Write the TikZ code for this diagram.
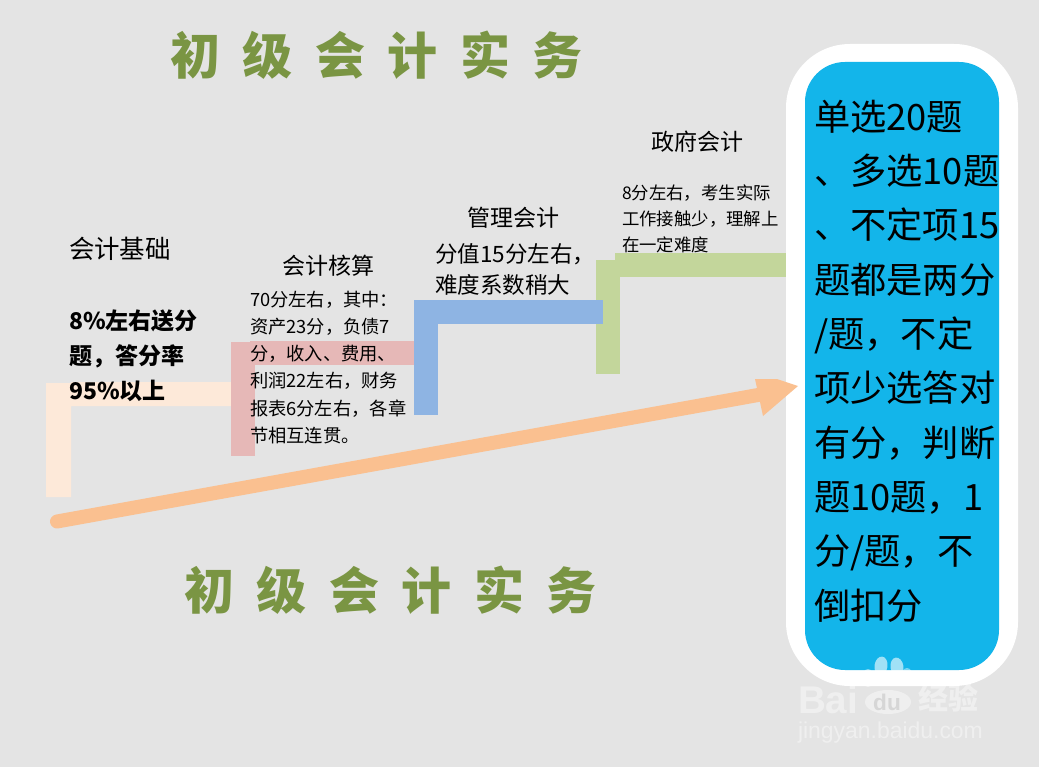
\documentclass[tikz,border=0pt]{standalone}
\usepackage{fontspec}
\setmainfont{Noto Sans CJK SC}
\newfontfamily\wmfont{Liberation Sans}
\definecolor{bgc}{HTML}{E4E4E4}
\definecolor{titlec}{HTML}{7A9543}
\definecolor{peachc}{HTML}{FDE9D9}
\definecolor{pinkc}{HTML}{E6B8B7}
\definecolor{bluec}{HTML}{8EB4E3}
\definecolor{greenc}{HTML}{C3D69B}
\definecolor{arrowc}{HTML}{FAC090}
\definecolor{panelc}{HTML}{13B5EA}
\definecolor{wmdu}{HTML}{D6D6D6}
\newcommand{\fsz}[2]{\fontsize{#1}{#2}\selectfont}
\newcommand{\tsp}{\hspace*{16.9pt}}
\tikzset{
  x=0.75pt,y=-0.75pt,
  every node/.style={inner sep=0pt,outer sep=0pt},
  titletext/.style={anchor=west,text=titlec,font=\fsz{37.5}{45}\bfseries},
  headtext/.style={anchor=center,text=black,font=\fsz{17.25}{21}},
  bodyL/.style={anchor=north west,align=left,text=black,font=\fsz{13.7}{20.4}},
  bodyM/.style={anchor=north west,align=left,text=black,font=\fsz{16.9}{23.25}},
  bodyS/.style={anchor=north west,align=left,text=black,font=\fsz{13.05}{19.5}},
  bodyB/.style={anchor=north west,align=left,text=black,font=\fsz{17.25}{26.25}\bfseries},
  paneltext/.style={anchor=north west,align=left,text=black,font=\fsz{27.2}{40.75}},
  wm/.style={text=white,text opacity=0.42},
}
\begin{document}
\begin{tikzpicture}
\useasboundingbox (0,0) rectangle (1039,767);
\fill[bgc] (0,0) rectangle (1039,767);
% steps
\fill[peachc] (46,497) -- (46,383) -- (71,383) -- (71,382) -- (232,382) -- (232,406) -- (71,406) -- (71,497) -- cycle;
\fill[pinkc] (231,342) rectangle (255,456);
\fill[pinkc] (250,341) rectangle (414,365);
\fill[greenc] (596,260) rectangle (620,374);
\fill[greenc] (615,253) rectangle (786,277);
\fill[bluec] (414,300) rectangle (438,415);
\fill[bluec] (414,300) rectangle (603,324);
% panel
\fill[white,rounded corners=48pt] (786,44) rectangle (1018,686);
\fill[panelc,rounded corners=30pt] (805,62) rectangle (999,670);
% arrow
\coordinate (arrS) at (57,521.5);
\coordinate (arrE) at (758,395);
\draw[arrowc,line width=10.5pt,line cap=round] (arrS) -- (arrE);
\fill[arrowc] (755,379) -- (777,379) -- (798,386) -- (763,416) -- cycle;
% titles
\node[titletext] (title1) at (170,55) {初\tsp 级\tsp 会\tsp 计\tsp 实\tsp 务};
\node[titletext] (title2) at (184,590) {初\tsp 级\tsp 会\tsp 计\tsp 实\tsp 务};
% labels
\node[headtext,font=\fsz{19.1}{23},anchor=west] (h1) at (69,249) {会计基础};
\node[bodyB] (b1) at (69,310) {8\%左右送分\\题，答分率\\95\%以上};
\node[headtext] (h2) at (328,266) {会计核算};
\node[bodyL] (b2) at (250,291) {70分左右，其中：\\资产23分，负债7\\分，收入、费用、\\利润22左右，财务\\报表6分左右，各章\\节相互连贯。};
\node[headtext] (h3) at (513.5,218) {管理会计};
\node[bodyM] (b3) at (435,244) {分值15分左右，\\难度系数稍大};
\node[headtext] (h4) at (697,142) {政府会计};
\node[bodyS] (b4) at (622,185) {8分左右，考生实际\\工作接触少，理解上\\在一定难度};
\node[paneltext] (p) at (814,100) {单选20题\\、多选10题\\、不定项15\\题都是两分\\/题，不定\\项少选答对\\有分，判断\\题10题，1\\分/题，不\\倒扣分};
% watermark
\begin{scope}[fill=white,fill opacity=0.6]
\fill[rotate around={-8:(881,666)}] (881,666) ellipse (6.5 and 9.5);
\fill[rotate around={8:(897,667)}] (897,667) ellipse (6.5 and 9.5);
\end{scope}
\begin{scope}[fill=white,fill opacity=0.42]
\fill (868,678) ellipse (6 and 9);
\fill (907,677) ellipse (6 and 9);
\fill (888,702) ellipse (23 and 12);
\end{scope}
\node[wm,anchor=base west,font=\wmfont\bfseries\fontsize{29}{30}\selectfont] (wm1) at (798,713) {Bai};
\node[anchor=center,text=wmdu,font=\wmfont\bfseries\fontsize{17}{18}\selectfont] (wm2) at (887,702) {du};
\node[wm,anchor=center,font=\bfseries\fontsize{22.5}{24}\selectfont] (wm3) at (948,698) {经验};
\node[wm,anchor=base west,font=\wmfont\fontsize{17.2}{18}\selectfont] (wm4) at (798,738) {jingyan.baidu.com};
\end{tikzpicture}
\end{document}
